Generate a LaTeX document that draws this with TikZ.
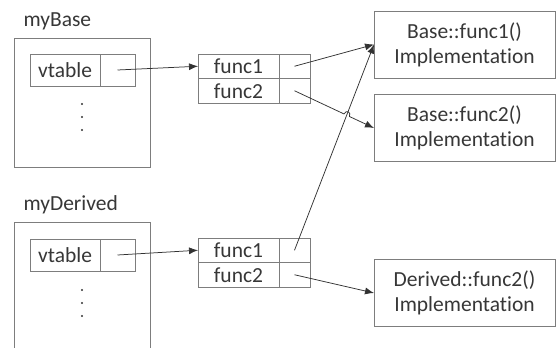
\documentclass[tikz,border=0pt]{standalone}
\usepackage{fontspec}
\setmainfont{Carlito}[Ligatures={NoCommon}]
\usetikzlibrary{positioning,arrows.meta,calc}
\definecolor{boxgray}{RGB}{125,125,125}
\definecolor{textgray}{RGB}{55,55,55}
\definecolor{ptrgray}{RGB}{50,50,50}
\tikzset{
  txt/.style={font=\fontsize{21.5}{25}\selectfont, text=textgray},
  objbox/.style={draw=boxgray, line width=0.9pt, inner sep=0pt, outer sep=0pt},
  vcell/.style={objbox, txt, minimum width=70pt, minimum height=32pt},
  pcell/.style={objbox, minimum width=35pt, minimum height=32pt},
  fcell/.style={objbox, txt, minimum width=81pt, minimum height=24.5pt},
  fptr/.style={objbox, minimum width=31pt, minimum height=24.5pt},
  implbox/.style={objbox, txt, minimum width=181pt, minimum height=67pt, align=center},
  ptr/.style={draw=ptrgray, line width=0.75pt, -{Latex[length=9pt,width=7pt]}},
  dotmark/.style={fill=ptrgray, draw=none, circle, inner sep=0pt, minimum size=2.4pt}
}
\begin{document}
\begin{tikzpicture}[x=1pt,y=-1pt]
\clip (0,0) rectangle (557,348);

% objects
\node[txt, anchor=base west] (lblBase) at (20,27) {myBase};
\node[objbox, minimum width=136pt, minimum height=129pt] (objBase) at (82,102.5) {};
\node[vcell] (bvt) at (65,70) {vtable};
\node[pcell, right=0pt of bvt] (bvtp) {};
\foreach \y [count=\i] in {104,117,130} \node[dotmark] (bdot\i) at (82,\y) {};

\node[txt, anchor=base west] (lblDerived) at (20,210) {myDerived};
\node[objbox, minimum width=136pt, minimum height=140pt] (objDerived) at (82,292) {};
\node[vcell] (dvt) at (65,255) {vtable};
\node[pcell, right=0pt of dvt] (dvtp) {};
\foreach \y [count=\i] in {290,303,316} \node[dotmark] (ddot\i) at (82,\y) {};

% vtables
\node[fcell] (bf1) at (238.5,66.25) {func1};
\node[fptr, right=0pt of bf1] (bp1) {};
\node[fcell, below=0pt of bf1] (bf2) {func2};
\node[fptr, right=0pt of bf2] (bp2) {};

\node[fcell] (df1) at (238.5,250.25) {func1};
\node[fptr, right=0pt of df1] (dp1) {};
\node[fcell, below=0pt of df1] (df2) {func2};
\node[fptr, right=0pt of df2] (dp2) {};

% implementations
\node[implbox] (impl1) at (464.5,44.5) {Base::func1()\\Implementation};
\node[implbox] (impl2) at (464.5,128) {Base::func2()\\Implementation};
\node[implbox] (impl3) at (464.5,293) {Derived::func2()\\Implementation};

% pointers
\draw[ptr] (bvtp.center) -- (bf1.west);
\draw[ptr] (dvtp.center) -- (df1.west);
\draw[ptr] (bp1.center) -- (impl1.west);
\draw[ptr] (dp1.center) -- (impl1.west);
\draw[ptr] (dp2.center) -- (impl3.west);

% func2 hops over the derived pointer
\coordinate (hopX) at (intersection of bp2.center--impl2.west and dp1.center--impl1.west);
\coordinate (hopA) at ($(hopX)!3pt!(bp2.center)$);
\coordinate (hopB) at ($(hopX)!3pt!(impl2.west)$);
\draw[ptr] (bp2.center) -- (hopA)
  .. controls ($(hopA)!5pt!90:(hopX)$) and ($(hopB)!5pt!-90:(hopX)$) .. (hopB)
  -- (impl2.west);
\end{tikzpicture}
\end{document}
